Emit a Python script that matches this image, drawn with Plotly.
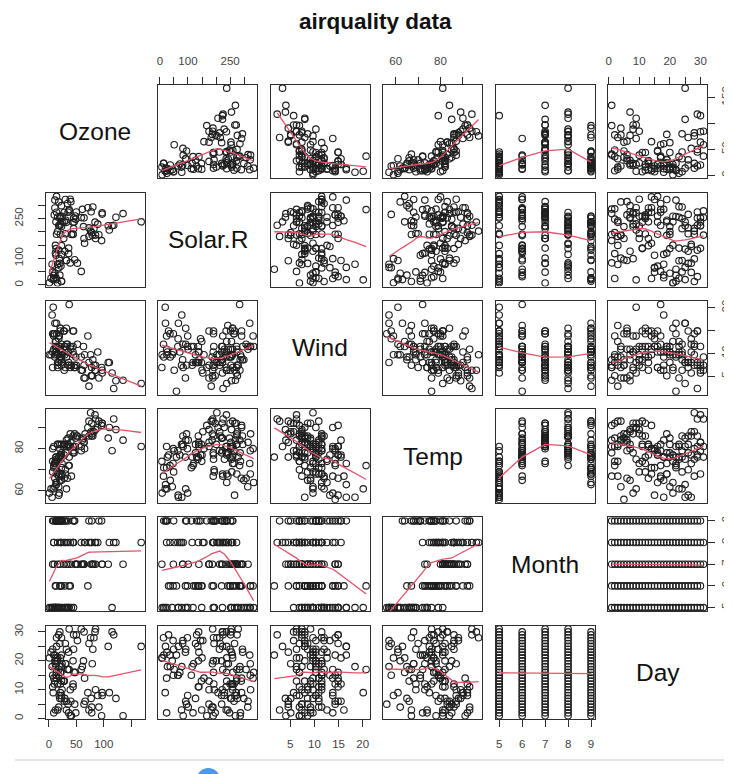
import numpy as np
import plotly.graph_objects as go

# ---------------- data (R airquality) ----------------
ozone = [41, 36, 12, 18, None, 28, 23, 19, 8, None, 7, 16, 11, 14, 18, 14, 34, 6, 30, 11, 1, 11, 4, 32, None, None, None, 23, 45, 115, 37,
         None, None, None, None, None, None, 29, None, 71, 39, None, None, 23, None, None, 21, 37, 20, 12, 13, None, None, None, None, None, None, None, None, None, None,
         135, 49, 32, None, 64, 40, 77, 97, 97, 85, None, 10, 27, None, 7, 48, 35, 61, 79, 63, 16, None, None, 80, 108, 20, 52, 82, 50, 64, 59,
         39, 9, 16, 78, 35, 66, 122, 89, 110, None, None, 44, 28, 65, None, 22, 59, 23, 31, 44, 21, 9, None, 45, 168, 73, None, 76, 118, 84, 85,
         96, 78, 73, 91, 47, 32, 20, 23, 21, 24, 44, 21, 28, 9, 13, 46, 18, 13, 24, 16, 13, 23, 36, 7, 14, 30, None, 14, 18, 20]
solar_r = [190, 118, 149, 313, None, None, 299, 99, 19, 194, None, 256, 290, 274, 65, 334, 307, 78, 322, 44, 8, 320, 25, 92, 66, 266, None, 13, 252, 223, 279,
           286, 287, 242, 186, 220, 264, 127, 273, 291, 323, 259, 250, 148, 332, 322, 191, 284, 37, 120, 137, 150, 59, 91, 250, 135, 127, 47, 98, 31, 138,
           269, 248, 236, 101, 175, 314, 276, 267, 272, 175, 139, 264, 175, 291, 48, 260, 274, 285, 187, 220, 7, 258, 295, 294, 223, 81, 82, 213, 275, 253, 254,
           83, 24, 77, None, None, None, 255, 229, 207, 222, 137, 192, 273, 157, 64, 71, 51, 115, 244, 190, 259, 36, 255, 212, 238, 215, 153, 203, 225, 237, 188,
           167, 197, 183, 189, 95, 92, 252, 220, 230, 259, 236, 259, 238, 24, 112, 237, 224, 27, 238, 201, 238, 14, 139, 49, 20, 193, 145, 191, 131, 223]
wind = [7.4, 8.0, 12.6, 11.5, 14.3, 14.9, 8.6, 13.8, 20.1, 8.6, 6.9, 9.7, 9.2, 10.9, 13.2, 11.5, 12.0, 18.4, 11.5, 9.7, 9.7, 16.6, 9.7, 12.0, 16.6, 14.9, 8.0, 12.0, 14.9, 5.7, 7.4,
        8.6, 9.7, 16.1, 9.2, 8.6, 14.3, 9.7, 6.9, 13.8, 11.5, 10.9, 9.2, 8.0, 13.8, 11.5, 14.9, 20.7, 9.2, 11.5, 10.3, 6.3, 1.7, 4.6, 6.3, 8.0, 8.0, 10.3, 11.5, 14.9, 8.0,
        4.1, 9.2, 9.2, 10.9, 4.6, 10.9, 5.1, 6.3, 5.7, 7.4, 8.6, 14.3, 14.9, 14.9, 14.3, 6.9, 10.3, 6.3, 5.1, 11.5, 6.9, 9.7, 11.5, 8.6, 8.0, 8.6, 12.0, 7.4, 7.4, 7.4, 9.2,
        6.9, 13.8, 7.4, 6.9, 7.4, 4.6, 4.0, 10.3, 8.0, 8.6, 11.5, 11.5, 11.5, 9.7, 11.5, 10.3, 6.3, 7.4, 10.9, 10.3, 15.5, 14.3, 12.6, 9.7, 3.4, 8.0, 5.7, 9.7, 2.3, 6.3, 6.3,
        6.9, 5.1, 2.8, 4.6, 7.4, 15.5, 10.9, 10.3, 10.9, 9.7, 14.9, 15.5, 6.3, 10.9, 11.5, 6.9, 13.8, 10.3, 10.3, 8.0, 12.6, 9.2, 10.3, 10.3, 16.6, 6.9, 13.2, 14.3, 8.0, 11.5]
temp = [67, 72, 74, 62, 56, 66, 65, 59, 61, 69, 74, 69, 66, 68, 58, 64, 66, 57, 68, 62, 59, 73, 61, 61, 57, 58, 57, 67, 81, 79, 76,
        78, 74, 67, 84, 85, 79, 82, 87, 90, 87, 93, 92, 82, 80, 79, 77, 72, 65, 73, 76, 77, 76, 76, 76, 75, 78, 73, 80, 77, 83,
        84, 85, 81, 84, 83, 83, 88, 92, 92, 89, 82, 73, 81, 91, 80, 81, 82, 84, 87, 85, 74, 81, 82, 86, 85, 82, 86, 88, 86, 83, 81,
        81, 81, 82, 86, 85, 87, 89, 90, 90, 92, 86, 86, 82, 80, 79, 77, 79, 76, 78, 78, 77, 72, 75, 79, 81, 86, 88, 97, 94, 96, 94,
        91, 92, 93, 93, 87, 84, 80, 78, 75, 73, 81, 76, 77, 71, 71, 78, 67, 76, 68, 82, 64, 71, 81, 69, 63, 70, 77, 75, 76, 68]
month = [5, 5, 5, 5, 5, 5, 5, 5, 5, 5, 5, 5, 5, 5, 5, 5, 5, 5, 5, 5, 5, 5, 5, 5, 5, 5, 5, 5, 5, 5, 5,
         6, 6, 6, 6, 6, 6, 6, 6, 6, 6, 6, 6, 6, 6, 6, 6, 6, 6, 6, 6, 6, 6, 6, 6, 6, 6, 6, 6, 6, 6,
         7, 7, 7, 7, 7, 7, 7, 7, 7, 7, 7, 7, 7, 7, 7, 7, 7, 7, 7, 7, 7, 7, 7, 7, 7, 7, 7, 7, 7, 7, 7,
         8, 8, 8, 8, 8, 8, 8, 8, 8, 8, 8, 8, 8, 8, 8, 8, 8, 8, 8, 8, 8, 8, 8, 8, 8, 8, 8, 8, 8, 8, 8,
         9, 9, 9, 9, 9, 9, 9, 9, 9, 9, 9, 9, 9, 9, 9, 9, 9, 9, 9, 9, 9, 9, 9, 9, 9, 9, 9, 9, 9, 9]
day = [1, 2, 3, 4, 5, 6, 7, 8, 9, 10, 11, 12, 13, 14, 15, 16, 17, 18, 19, 20, 21, 22, 23, 24, 25, 26, 27, 28, 29, 30, 31,
       1, 2, 3, 4, 5, 6, 7, 8, 9, 10, 11, 12, 13, 14, 15, 16, 17, 18, 19, 20, 21, 22, 23, 24, 25, 26, 27, 28, 29, 30,
       1, 2, 3, 4, 5, 6, 7, 8, 9, 10, 11, 12, 13, 14, 15, 16, 17, 18, 19, 20, 21, 22, 23, 24, 25, 26, 27, 28, 29, 30, 31,
       1, 2, 3, 4, 5, 6, 7, 8, 9, 10, 11, 12, 13, 14, 15, 16, 17, 18, 19, 20, 21, 22, 23, 24, 25, 26, 27, 28, 29, 30, 31,
       1, 2, 3, 4, 5, 6, 7, 8, 9, 10, 11, 12, 13, 14, 15, 16, 17, 18, 19, 20, 21, 22, 23, 24, 25, 26, 27, 28, 29, 30]

var_names = ["Ozone", "Solar.R", "Wind", "Temp", "Month", "Day"]
variables = [ozone, solar_r, wind, temp, month, day]

# tick values / labels as drawn on each side (R drops overlapping labels)
tick_vals = {
    "Ozone": [0, 50, 100, 150],
    "Solar.R": [0, 50, 100, 150, 200, 250, 300],
    "Wind": [5, 10, 15, 20],
    "Temp": [60, 70, 80, 90],
    "Month": [5, 6, 7, 8, 9],
    "Day": [0, 5, 10, 15, 20, 25, 30],
}
bottom_labels = {
    "Ozone": ["0", "50", "100", ""],
    "Wind": ["5", "10", "15", "20"],
    "Month": ["5", "6", "7", "8", "9"],
}
top_labels = {
    "Solar.R": ["0", "", "100", "", "", "250", ""],
    "Temp": ["60", "", "80", ""],
    "Day": ["0", "", "10", "", "20", "", "30"],
}
left_labels = {
    "Solar.R": ["0", "", "100", "", "", "250", ""],
    "Temp": ["60", "", "80", ""],
    "Day": ["0", "", "10", "", "20", "", "30"],
}
right_labels = {
    "Ozone": ["0", "50", "", "150"],
    "Wind": ["5", "10", "", "20"],
    "Month": ["5", "6", "7", "8", "9"],
}


# ---------------- R's lowess (clowess) ----------------
def lowess(xv, yv, f=2 / 3, nsteps=3):
    x = np.asarray(xv, float)
    y = np.asarray(yv, float)
    o = np.argsort(x, kind="stable")
    x = x[o]
    y = y[o]
    n = len(x)
    delta = 0.01 * (x[-1] - x[0])
    ns = max(2, min(n, int(f * n + 1e-7)))
    ys = np.zeros(n)
    rw = np.ones(n)
    rng = x[-1] - x[0]

    def lowest(xs, nleft, nright, userw):
        h = max(xs - x[nleft], x[nright] - xs)
        h9 = 0.999 * h
        h1 = 0.001 * h
        w = np.zeros(n)
        a = 0.0
        j = nleft
        while j < n:
            r = abs(x[j] - xs)
            if r <= h9:
                w[j] = 1.0 if r <= h1 else (1 - (r / h) ** 3) ** 3
                if userw:
                    w[j] *= rw[j]
                a += w[j]
            elif x[j] > xs:
                break
            j += 1
        nrt = j - 1
        if a <= 0:
            return None
        sl = slice(nleft, nrt + 1)
        ww = w[sl] / a
        xx = x[sl]
        if h > 0:
            a2 = np.sum(ww * xx)
            b = xs - a2
            c = np.sum(ww * (xx - a2) ** 2)
            if np.sqrt(c) > 0.001 * rng:
                b /= c
                ww = ww * (b * (xx - a2) + 1)
        return float(np.sum(ww * y[sl]))

    it = 1
    while it <= nsteps + 1:
        nleft, nright, last, i = 0, ns - 1, -1, 0
        while True:
            if nright < n - 1:
                d1 = x[i] - x[nleft]
                d2 = x[nright + 1] - x[i]
                if d1 > d2:
                    nleft += 1
                    nright += 1
                    continue
            v = lowest(x[i], nleft, nright, it > 1)
            ys[i] = y[i] if v is None else v
            if last < i - 1:
                denom = x[i] - x[last]
                for j in range(last + 1, i):
                    alpha = (x[j] - x[last]) / denom
                    ys[j] = alpha * ys[i] + (1 - alpha) * ys[last]
            last = i
            cut = x[last] + delta
            i = last + 1
            while i < n:
                if x[i] > cut:
                    break
                if x[i] == x[last]:
                    ys[i] = ys[last]
                    last = i
                i += 1
            i = max(last + 1, i - 1)
            if last >= n - 1:
                break
        res = y - ys
        sc = np.mean(np.abs(res))
        if it > nsteps:
            break
        ar = np.abs(res)
        srt = np.sort(ar)
        m1 = n // 2
        if n % 2 == 0:
            cmad = 3 * (srt[m1] + srt[n - m1 - 1])
        else:
            cmad = 6 * srt[m1]
        if cmad < 1e-7 * sc:
            break
        c9, c1 = 0.999 * cmad, 0.001 * cmad
        rw = np.where(ar <= c1, 1.0, np.where(ar <= c9, (1 - (ar / cmad) ** 2) ** 2, 0.0))
        it += 1
    return x, ys


# ---------------- layout geometry ----------------
OFF = 8                      # page body margin
W, H = 732 - OFF, 774 - OFF  # figure size so that the page is filled
col_left = [43 - OFF + j * 113.4 for j in range(6)]
panel_w = 100
row_top = [83 - OFF + i * 108.6 for i in range(6)]
panel_h = 94

FONT = "Liberation Sans, Arial, Helvetica, sans-serif"
BOX = "#2e2e2e"
PT = "#1f1f1f"
SMOOTH = "#DF536B"
TICKFONT = dict(size=11.5, color="#444", family=FONT)


def vrange(v):
    a = [t for t in v if t is not None]
    lo, hi = min(a), max(a)
    p = 0.04 * (hi - lo)
    return [lo - p, hi + p]


fig = go.Figure()
layout = dict(
    width=W, height=H, margin=dict(l=0, r=0, t=0, b=0),
    paper_bgcolor="white", plot_bgcolor="white", showlegend=False,
    font=dict(family=FONT, color="#333"),
)
annotations = []

for i in range(6):
    for j in range(6):
        k = i * 6 + j + 1
        xa = "xaxis" if k == 1 else f"xaxis{k}"
        ya = "yaxis" if k == 1 else f"yaxis{k}"
        xr = "x" if k == 1 else f"x{k}"
        yr = "y" if k == 1 else f"y{k}"
        x0 = col_left[j] / W
        x1 = (col_left[j] + panel_w) / W
        y1 = 1 - row_top[i] / H
        y0 = 1 - (row_top[i] + panel_h) / H
        xname, yname = var_names[j], var_names[i]

        base = dict(showline=True, mirror=True, linecolor=BOX, linewidth=1.2,
                    showgrid=False, zeroline=False, fixedrange=True,
                    tickfont=TICKFONT)
        xax = dict(base, domain=[x0, x1], anchor=yr, range=vrange(variables[j]))
        yax = dict(base, domain=[y0, y1], anchor=xr, range=vrange(variables[i]))

        if i == 0 and j % 2 == 1:
            xax.update(side="top", ticks="outside", ticklen=7, tickcolor=BOX,
                       tickvals=tick_vals[xname], ticktext=top_labels[xname],
                       showticklabels=True, tickangle=0, ticklabelstandoff=7)
        elif i == 5 and j % 2 == 0:
            xax.update(side="bottom", ticks="outside", ticklen=7, tickcolor=BOX,
                       tickvals=tick_vals[xname], ticktext=bottom_labels[xname],
                       showticklabels=True, tickangle=0, ticklabelstandoff=7)
        else:
            xax.update(ticks="", showticklabels=False)

        if j == 0 and i % 2 == 1:
            yax.update(side="left", ticks="outside", ticklen=7, tickcolor=BOX,
                       tickvals=tick_vals[yname], ticktext=left_labels[yname],
                       showticklabels=True, tickangle=-90, ticklabelstandoff=10)
        elif j == 5 and i % 2 == 0:
            yax.update(side="right", ticks="outside", ticklen=7, tickcolor=BOX,
                       tickvals=tick_vals[yname], ticktext=right_labels[yname],
                       showticklabels=True, tickangle=-90, ticklabelstandoff=1)
        else:
            yax.update(ticks="", showticklabels=False)

        layout[xa] = xax
        layout[ya] = yax

        if i == j:
            annotations.append(dict(
                text=xname, x=(x0 + x1) / 2, y=(y0 + y1) / 2, xref="paper", yref="paper",
                showarrow=False, xanchor="center", yanchor="middle",
                font=dict(size=24.5, color="#111", family=FONT)))
            continue

        xs_all, ys_all = variables[j], variables[i]
        px_, py_ = [], []
        for a, b in zip(xs_all, ys_all):
            if a is not None and b is not None:
                px_.append(a)
                py_.append(b)
        fig.add_trace(go.Scatter(
            x=px_, y=py_, mode="markers", xaxis=xr, yaxis=yr,
            marker=dict(symbol="circle-open", size=6.5, color=PT, line=dict(width=1.15, color=PT)),
            hoverinfo="skip"))
        lx, ly = lowess(px_, py_)
        fig.add_trace(go.Scatter(
            x=lx, y=ly, mode="lines", xaxis=xr, yaxis=yr,
            line=dict(color=SMOOTH, width=1.3), hoverinfo="skip"))

annotations.append(dict(
    text="<b>airquality data</b>", x=(376 - OFF) / W, y=1 - (20 - OFF) / H,
    xref="paper", yref="paper",
    showarrow=False, xanchor="center", yanchor="middle",
    font=dict(size=22.5, color="#111", family=FONT)))

layout["annotations"] = annotations
layout["shapes"] = [
    dict(type="line", xref="paper", yref="paper", x0=(12 - OFF) / W, x1=1,
         y0=1 - (761 - OFF) / H, y1=1 - (761 - OFF) / H,
         line=dict(color="#dddddd", width=1.5)),
    dict(type="circle", xref="paper", yref="paper", x0=(195 - OFF) / W, x1=(219 - OFF) / W,
         y0=1 - (793 - OFF) / H, y1=1 - (769 - OFF) / H, fillcolor="#4a98f0", line=dict(width=0)),
]
fig.update_layout(**layout)
fig.write_html("out.html")
